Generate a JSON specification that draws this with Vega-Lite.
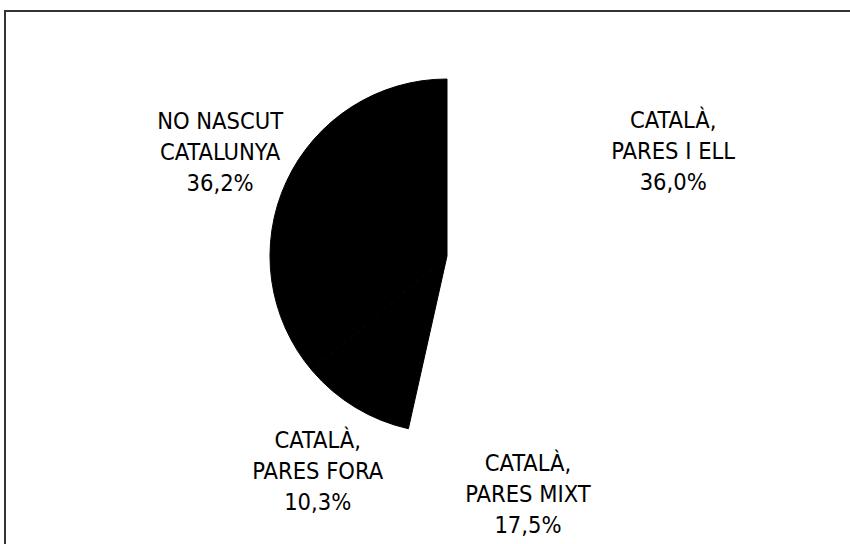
{
  "$schema": "https://vega.github.io/schema/vega-lite/v6.json",
  "autosize": "none",
  "padding": {"left": 5, "top": 11, "right": 0, "bottom": 0},
  "width": 848,
  "height": 536,
  "background": "white",
  "view": {"stroke": "#333333", "strokeWidth": 2},
  "config": {
    "view": {"stroke": "#333333", "strokeWidth": 2},
    "font": "DejaVu Sans Condensed"
  },
  "data": {
    "values": [
      {"order": 1, "name": "CATALÀ,\nPARES I ELL", "pct": 36.0},
      {"order": 2, "name": "CATALÀ,\nPARES MIXT", "pct": 17.5},
      {"order": 3, "name": "CATALÀ,\nPARES FORA", "pct": 10.3},
      {"order": 4, "name": "NO NASCUT\nCATALUNYA", "pct": 36.2}
    ]
  },
  "transform": [
    {"calculate": "datum.name + '\\n' + replace(format(datum.pct, '.1f'), '.', ',') + '%'", "as": "label"}
  ],
  "encoding": {
    "theta": {"field": "pct", "type": "quantitative", "stack": true},
    "order": {"field": "order", "type": "quantitative"}
  },
  "layer": [
    {
      "mark": {"type": "arc", "outerRadius": 177, "x": 442, "y": 245, "strokeWidth": 1},
      "encoding": {
        "color": {
          "field": "name",
          "type": "nominal",
          "scale": {
            "domain": ["CATALÀ,\nPARES I ELL", "CATALÀ,\nPARES MIXT", "CATALÀ,\nPARES FORA", "NO NASCUT\nCATALUNYA"],
            "range": ["#ffffff", "#ffffff", "#000000", "#000000"]
          },
          "legend": null
        },
        "stroke": {
          "field": "name",
          "type": "nominal",
          "scale": {
            "domain": ["CATALÀ,\nPARES I ELL", "CATALÀ,\nPARES MIXT", "CATALÀ,\nPARES FORA", "NO NASCUT\nCATALUNYA"],
            "range": ["#ffffff", "#ffffff", "#000000", "#000000"]
          },
          "legend": null
        }
      }
    },
    {
      "mark": {
        "type": "text",
        "radius": 250,
        "x": 442,
        "y": 245,
        "dy": -29,
        "lineBreak": "\n",
        "lineHeight": 31,
        "fontSize": 23.5,
        "font": "DejaVu Sans Condensed",
        "align": "center",
        "baseline": "middle",
        "color": "#000000"
      },
      "encoding": {
        "text": {"field": "label", "type": "nominal"}
      }
    }
  ]
}
